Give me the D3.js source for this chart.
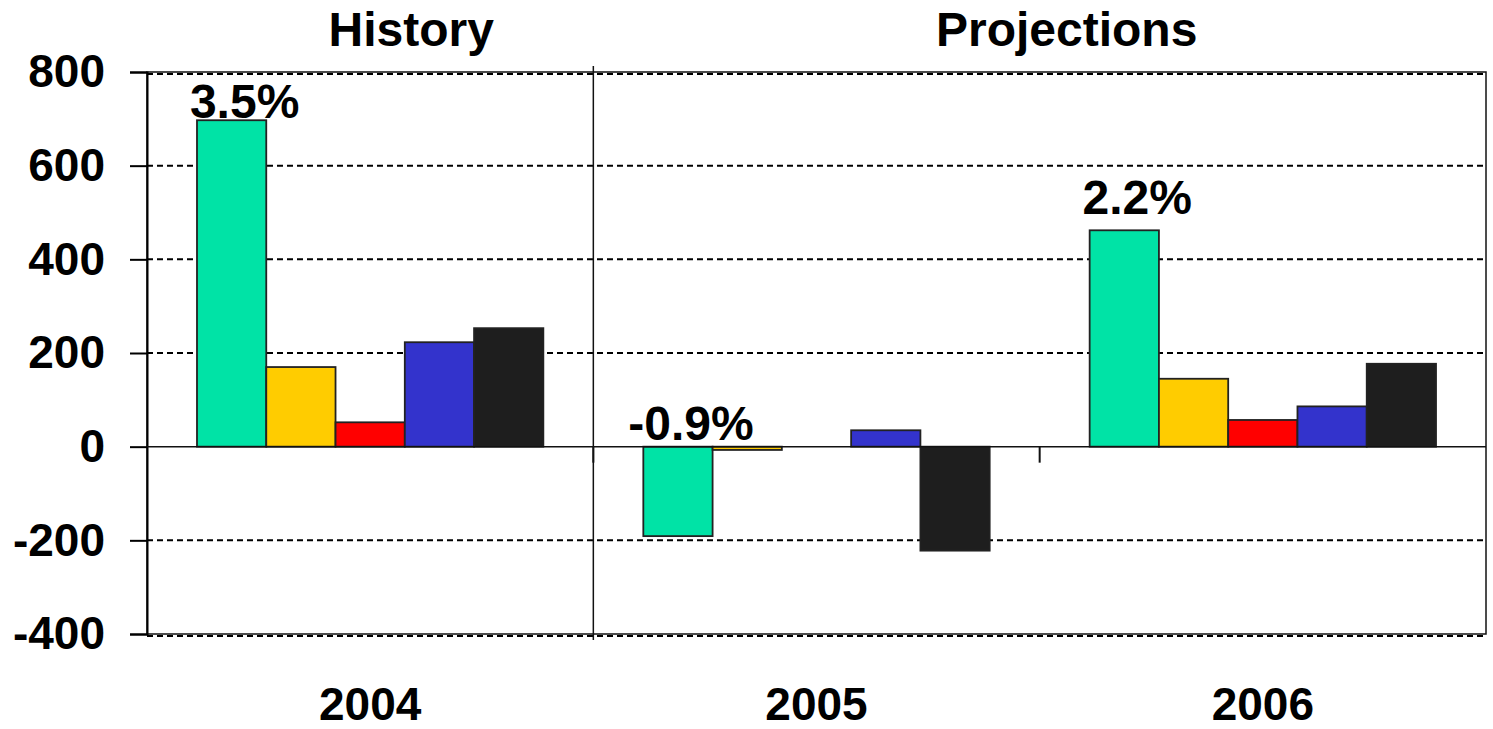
<!DOCTYPE html>
<html>
  <head>
    <meta charset="utf-8">
    <title>Chart</title>
    <style>
      body { margin: 0; background: #fff; }
      svg text { font-family: "Liberation Sans", Arial, sans-serif; font-weight: bold; fill: #000; }
    </style>
  </head>
  <body>
    <svg></svg>
    <script src="https://d3js.org/d3.v7.min.js"></script>
    <script>

      // data
      const years = ["2004", "2005", "2006"]
      const series = ["s1", "s2", "s3", "s4", "s5"]
      const colors = ["#00E3A6", "#FFCC00", "#FF0000", "#3333CC", "#1E1E1E"]
      const values = [
        [697, 170, 52, 223, 253],
        [-191, -7, 0, 35, -222],
        [462, 145, 57, 86, 177]
      ]
      const growth = ["3.5%", "-0.9%", "2.2%"]
      const growthAt = [697, 10, 492]
      const yTicks = [-400, -200, 0, 200, 400, 600, 800]
      const periods = ["History", "Projections"]

      // dimensions
      const margin = {top: 72, right: 7, bottom: 95, left: 147},
      width = 1493 - margin.left - margin.right,
      height = 729 - margin.top - margin.bottom

      const x = d3.scaleBand().domain(years).range([0, width]).paddingInner(0.224).paddingOuter(0.112)
      const xs = d3.scaleBand().domain(series).range([0, x.bandwidth()])
      const y = d3.scaleLinear().domain([-400, 800]).range([height, 0])
      const step = x.step()
      const edge = function(d) { return x(d) - x.paddingInner() * step / 2 }

      const svg = d3.select("svg")
          .attr("width", 1493)
          .attr("height", 729)
        .append("g")
          .attr("transform", "translate(" + margin.left + "," + margin.top + ")")

      // gridlines
      svg.selectAll(".grid")
        .data(yTicks.filter(function(d) { return d != 0 }))
      .enter().append("line")
        .attr("x1", 0).attr("x2", width)
        .attr("y1", function(d) { return y(d) + (d == 800 || d == -400 ? 2 : 0) })
        .attr("y2", function(d) { return y(d) + (d == 800 || d == -400 ? 2 : 0) })
        .attr("stroke", "#000")
        .attr("stroke-width", 2)
        .attr("stroke-dasharray", "6,4")

      // frame
      svg.append("rect")
        .attr("width", width).attr("height", height)
        .attr("fill", "none").attr("stroke", "#111").attr("stroke-width", 1.5)

      // y axis
      const yAxis = svg.append("g")
        .call(d3.axisLeft(y).tickValues(yTicks).tickSize(17).tickPadding(25)
          .tickFormat(function(d) { return String(d) }))
      yAxis.select(".domain").attr("stroke-width", 2)
      yAxis.selectAll(".tick line").attr("stroke-width", 2)
      yAxis.selectAll("text").attr("font-size", 46)
        .attr("font-family", "Liberation Sans").attr("font-weight", "bold")

      // bars
      const groups = svg.selectAll(".year")
        .data(years)
      .enter().append("g")
        .attr("transform", function(d) { return "translate(" + x(d) + ",0)" })

      groups.selectAll("rect")
        .data(function(d, i) { return values[i].map(function(v, j) { return {key: series[j], value: v, color: colors[j]} }) })
      .enter().append("rect")
        .filter(function(d) { return d.value != 0 })
        .attr("x", function(d) { return xs(d.key) })
        .attr("y", function(d) { return y(Math.max(0, d.value)) })
        .attr("width", xs.bandwidth())
        .attr("height", function(d) { return Math.abs(y(d.value) - y(0)) })
        .attr("fill", function(d) { return d.color })
        .attr("stroke", "#222")
        .attr("stroke-width", 1.8)

      // zero line
      svg.append("line")
        .attr("x1", 0).attr("x2", width)
        .attr("y1", y(0)).attr("y2", y(0))
        .attr("stroke", "#111").attr("stroke-width", 1.5)

      // category ticks on zero line
      svg.selectAll(".cat")
        .data(years.slice(1))
      .enter().append("line")
        .attr("x1", edge).attr("x2", edge)
        .attr("y1", y(0)).attr("y2", y(0) + 16)
        .attr("stroke", "#111").attr("stroke-width", 2)

      // history / projections divider
      svg.append("line")
        .attr("x1", edge("2005")).attr("x2", edge("2005"))
        .attr("y1", -6).attr("y2", height + 6)
        .attr("stroke", "#111").attr("stroke-width", 1.5)

      // growth labels
      svg.selectAll(".growth")
        .data(growth)
      .enter().append("text")
        .attr("x", function(d, i) { return x(years[i]) + xs("s1") + xs.bandwidth() / 2 + 13 })
        .attr("y", function(d, i) { return y(growthAt[i]) - 2 })
        .attr("text-anchor", "middle")
        .attr("font-size", 48)
        .text(function(d) { return d })

      // year labels
      svg.selectAll(".yearlabel")
        .data(years)
      .enter().append("text")
        .attr("x", function(d) { return x(d) + x.bandwidth() / 2 })
        .attr("y", height + 86)
        .attr("text-anchor", "middle")
        .attr("font-size", 46)
        .text(function(d) { return d })

      // period titles
      svg.selectAll(".period")
        .data(periods)
      .enter().append("text")
        .attr("x", function(d, i) { return i == 0 ? x("2004") + x.bandwidth() / 2 + 41 : edge("2006") + 27 })
        .attr("y", -26)
        .attr("text-anchor", "middle")
        .attr("font-size", 48)
        .text(function(d) { return d })
    </script>
  </body>
</html>
